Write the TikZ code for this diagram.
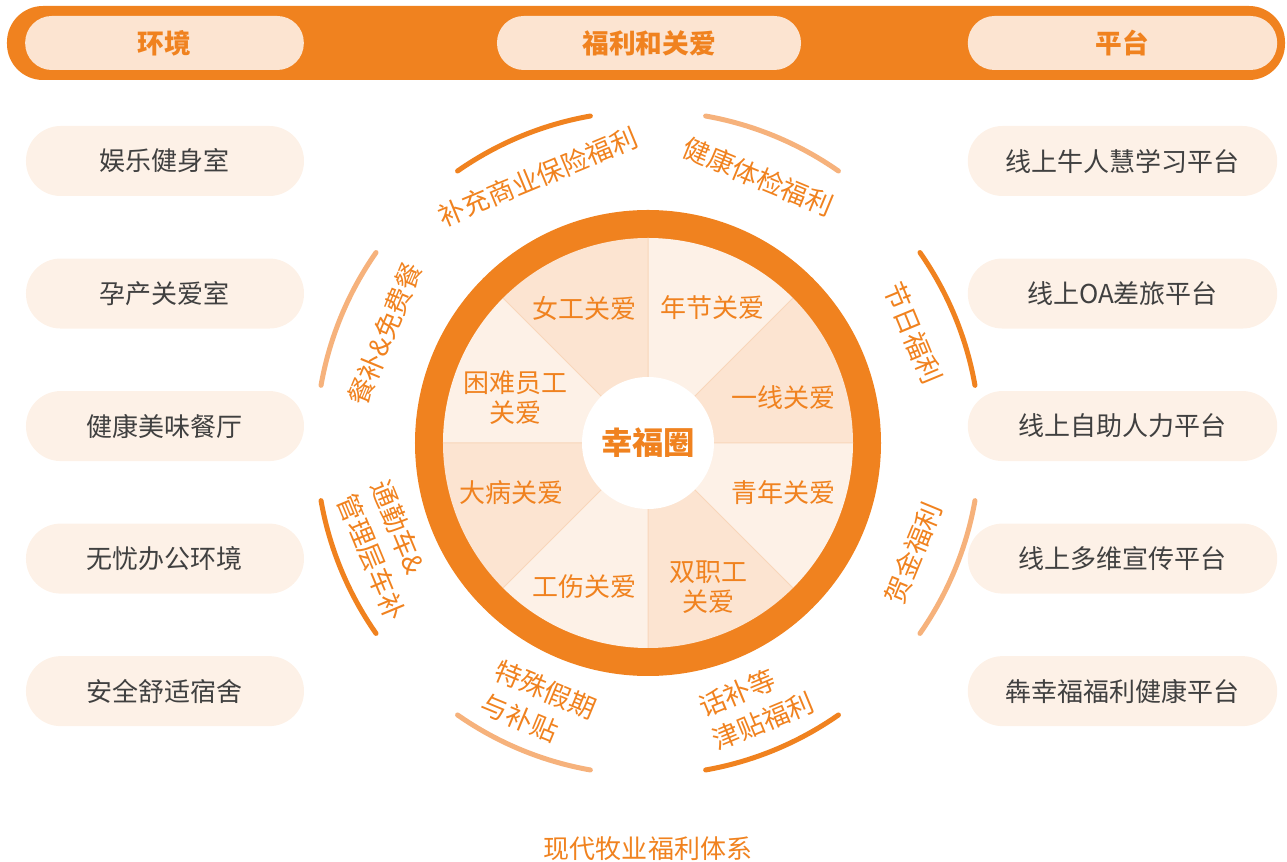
\documentclass[tikz,border=0pt]{standalone}
\usepackage{fontspec}
\setmainfont{Noto Sans CJK SC}
\usetikzlibrary{positioning}
\definecolor{brand}{RGB}{240,130,31}
\definecolor{brandlt}{RGB}{246,178,124}
\definecolor{peach}{RGB}{252,228,209}
\definecolor{cream}{RGB}{253,241,231}
\definecolor{seam}{RGB}{248,214,186}
\definecolor{ink}{RGB}{64,64,64}
\tikzset{x=0.75pt,y=0.75pt,
 tab/.style={fill=peach,rounded corners=20pt,minimum width=#1,minimum height=40.5pt,inner sep=0pt,text=brand,font=\fontsize{20}{24}\selectfont\bfseries},
 pill/.style={fill=cream,rounded corners=26pt,minimum width=#1,minimum height=52.5pt,inner sep=0pt,text=ink,font=\fontsize{19.5}{24}\selectfont},
 care/.style={text=brand,align=center,inner sep=0pt,font=\fontsize{19.5}{22.5}\selectfont},
 perk/.style={text=brand,align=left,inner sep=0pt,font=\fontsize{20}{27}\selectfont},
 band/.style={line width=3.75pt,line cap=round}}
\begin{document}
\begin{tikzpicture}
\useasboundingbox (-648,-419) rectangle (639,443);
% header bar
\node[fill=brand,rounded corners=27pt,minimum width=958.5pt,minimum height=55.5pt,inner sep=0pt] (bar) at (-2,400) {};
\node[tab=209pt] (env) at (-483.5,400) {环境};
\node[tab=228pt] (care) at (1,400) {福利和关爱};
\node[tab=232pt] (plat) at (474.5,400) {平台};
% left column
\node[pill=208.5pt] (gym) at (-483,282) {娱乐健身室};
\node[pill=208.5pt,below=46.5pt of gym] (mom) {孕产关爱室};
\node[pill=208.5pt,below=46.5pt of mom] (canteen) {健康美味餐厅};
\node[pill=208.5pt,below=46.5pt of canteen] (office) {无忧办公环境};
\node[pill=208.5pt,below=46.5pt of office] (dorm) {安全舒适宿舍};
% right column
\node[pill=232pt] (learn) at (474.5,282) {线上牛人慧学习平台};
\node[pill=232pt,below=46.5pt of learn] (oa) {线上OA差旅平台};
\node[pill=232pt,below=46.5pt of oa] (hr) {线上自助人力平台};
\node[pill=232pt,below=46.5pt of hr] (promo) {线上多维宣传平台};
\node[pill=232pt,below=46.5pt of promo] (health) {犇幸福福利健康平台};
% wheel
\fill[brand] (0,0) circle[radius=174.75pt];
\fill[peach] (0,0) -- (0:205) arc[start angle=0,end angle=45,radius=153.75pt] -- cycle;
\fill[cream] (0,0) -- (45:205) arc[start angle=45,end angle=90,radius=153.75pt] -- cycle;
\fill[peach] (0,0) -- (90:205) arc[start angle=90,end angle=135,radius=153.75pt] -- cycle;
\fill[cream] (0,0) -- (135:205) arc[start angle=135,end angle=180,radius=153.75pt] -- cycle;
\fill[peach] (0,0) -- (180:205) arc[start angle=180,end angle=225,radius=153.75pt] -- cycle;
\fill[cream] (0,0) -- (225:205) arc[start angle=225,end angle=270,radius=153.75pt] -- cycle;
\fill[peach] (0,0) -- (270:205) arc[start angle=270,end angle=315,radius=153.75pt] -- cycle;
\fill[cream] (0,0) -- (315:205) arc[start angle=315,end angle=360,radius=153.75pt] -- cycle;
\draw[seam,line width=0.75pt] (0:205) -- (180:205) (90:205) -- (270:205) (45:205) -- (225:205) (135:205) -- (315:205);
\node[circle,fill=white,minimum size=99pt,inner sep=0pt,text=brand,font=\fontsize{23.5}{26}\selectfont\bfseries] (hub) at (0,0) {幸福圈};
\node[care] (women) at (-64,135) {女工关爱};
\node[care] (newyear) at (64,135) {年节关爱};
\node[care] (front) at (135,45) {一线关爱};
\node[care] (youth) at (135,-50) {青年关爱};
\node[care] (couple) at (60,-144) {双职工\\关爱};
\node[care] (injury) at (-64,-144) {工伤关爱};
\node[care] (illness) at (-136,-50) {大病关爱};
\node[care] (needy) at (-132,45) {困难员工\\关爱};
% outer bands
\draw[band,brand] (10:332) arc[start angle=10,end angle=35,radius=249pt];
\draw[band,brandlt] (55:332) arc[start angle=55,end angle=80,radius=249pt];
\draw[band,brand] (100:332) arc[start angle=100,end angle=125,radius=249pt];
\draw[band,brandlt] (145:332) arc[start angle=145,end angle=170,radius=249pt];
\draw[band,brand] (190:332) arc[start angle=190,end angle=215,radius=249pt];
\draw[band,brandlt] (235:332) arc[start angle=235,end angle=260,radius=249pt];
\draw[band,brand] (280:332) arc[start angle=280,end angle=305,radius=249pt];
\draw[band,brandlt] (325:332) arc[start angle=325,end angle=350,radius=249pt];
\node[perk,rotate=22.5] (insur) at (112.5:288) {补充商业保险福利};
\node[perk,rotate=-22.5] (exam) at (67.5:288) {健康体检福利};
\node[perk,rotate=-67.5] (fest) at (22.5:287) {节日福利};
\node[perk,rotate=67.5] (bonus) at (-22.5:287) {贺金福利};
\node[perk,rotate=22.5] (phone) at (-67.5:283) {话补等\\津贴福利};
\node[perk,rotate=-22.5] (leave) at (-112.5:285) {特殊假期\\与补贴};
\node[perk,rotate=-67.5] (bus) at (-157.5:281) {通勤车\&\\管理层车补};
\node[perk,rotate=67.5] (meal) at (157.5:285) {餐补\&免费餐};
\node[text=brand,font=\fontsize{19.5}{24}\selectfont] (title) at (0,-406) {现代牧业福利体系};
\end{tikzpicture}
\end{document}
